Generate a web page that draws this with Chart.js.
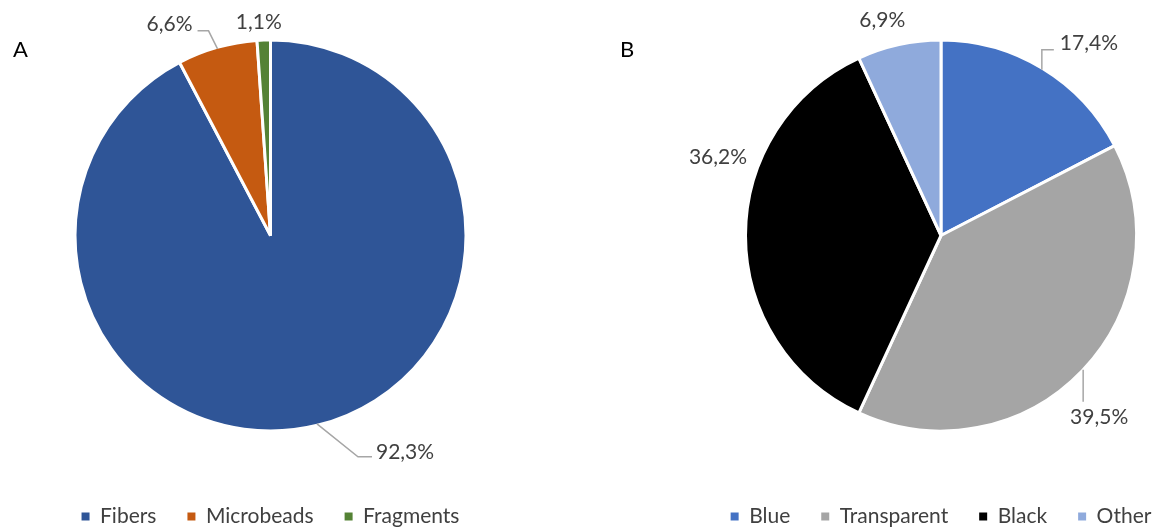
<!DOCTYPE html>
<html>
<head>
<meta charset="utf-8">
<script src="https://cdn.jsdelivr.net/npm/chart.js@4.4.1/dist/chart.umd.min.js"></script>
<style>
  html, body { margin: 0; padding: 0; background: #fff; overflow: hidden; }
  body { width: 1158px; height: 529px; position: relative; }
  .box { position: absolute; top: -4px; height: 559px; }
  #boxA { left: 0; width: 541px; }
  #boxB { left: 600px; width: 682px; }
</style>
</head>
<body>
<div class="box" id="boxA"><canvas id="chartA"></canvas></div>
<div class="box" id="boxB"><canvas id="chartB"></canvas></div>
<script>
// particle shape (panel A)
var shapeLabels = ['Fibers', 'Microbeads', 'Fragments'];
var shapeValues = [92.3, 6.6, 1.1];
var shapeColors = ['#2F5597', '#C55A11', '#548235'];

// particle colour (panel B)
var colourLabels = ['Blue', 'Transparent', 'Black', 'Other'];
var colourValues = [17.4, 39.5, 36.2, 6.9];
var colourColors = ['#4472C4', '#A5A5A5', '#000000', '#8FAADC'];

var FONT = 'Lato, "Open Sans", sans-serif';

// where each percentage sits, relative to the middle of its slice's rim
var shapePlaces = [
    { dx: 59, dy: 28, align: 'left', leader: [[0, 0], [41, 33], [55, 33]] },
    { dx: -25, dy: -25, align: 'right', leader: [[0, 0], [-9, -18], [-20, -18]] },
    { dx: -5, dy: -19, align: 'center', leader: null }
];
var colourPlaces = [
    { dx: 18, dy: -27, align: 'left', leader: [[0, 0], [0, -20], [12, -20]] },
    { dx: 18, dy: 48, align: 'center', leader: [[2, 0], [2, 32]] },
    { dx: -29, dy: -78, align: 'center', leader: null },
    { dx: -17, dy: -26, align: 'center', leader: null }
];

// draws "92,3%" style labels with grey leader lines
var sliceLabels = {
    id: 'sliceLabels',
    afterDatasetsDraw: function (chart, args, opts) {
        var ctx = chart.ctx;
        var meta = chart.getDatasetMeta(0);
        var data = chart.data.datasets[0].data;
        ctx.save();
        ctx.font = '21px ' + FONT;
        ctx.textBaseline = 'middle';
        meta.data.forEach(function (arc, i) {
            var p = arc.getProps(['x', 'y', 'startAngle', 'endAngle', 'outerRadius'], true);
            var mid = (p.startAngle + p.endAngle) / 2;
            var ex = p.x + Math.cos(mid) * (p.outerRadius - 1.5);
            var ey = p.y + Math.sin(mid) * (p.outerRadius - 1.5);
            var place = opts.places[i];
            if (place.leader) {
                ctx.strokeStyle = '#A6A6A6';
                ctx.lineWidth = 1.5;
                ctx.beginPath();
                place.leader.forEach(function (pt, k) {
                    if (k === 0) ctx.moveTo(ex + pt[0], ey + pt[1]);
                    else ctx.lineTo(ex + pt[0], ey + pt[1]);
                });
                ctx.stroke();
            }
            ctx.fillStyle = '#404040';
            ctx.textAlign = place.align;
            var txt = data[i].toFixed(1).replace('.', ',') + '%';
            ctx.fillText(txt, ex + place.dx, ey + place.dy);
        });
        // panel letter
        ctx.fillStyle = '#000';
        ctx.font = '22px ' + FONT;
        ctx.textAlign = 'left';
        ctx.textBaseline = 'alphabetic';
        ctx.fillText(opts.letter, opts.letterX, 61);
        ctx.restore();
    }
};

function legendItems(chart) {
    var items = Chart.overrides.pie.plugins.legend.labels.generateLabels(chart);
    items.forEach(function (it) {
        it.lineWidth = 0;
        it.strokeStyle = it.fillStyle;
    });
    return items;
}

function makePie(id, labels, values, colors, places, letter, letterX) {
    return new Chart(document.getElementById(id), {
        type: 'pie',
        data: {
            labels: labels,
            datasets: [{
                data: values,
                backgroundColor: colors,
                borderColor: '#ffffff',
                borderWidth: 3,
                radius: 195.5
            }]
        },
        options: {
            responsive: true,
            maintainAspectRatio: false,
            animation: false,
            layout: { padding: { top: 0, bottom: 18 } },
            plugins: {
                tooltip: { enabled: false },
                legend: {
                    position: 'bottom',
                    labels: {
                        boxWidth: 8,
                        boxHeight: 8,
                        padding: 31,
                        color: '#404040',
                        font: { family: FONT, size: 21 },
                        generateLabels: legendItems
                    }
                },
                sliceLabels: { places: places, letter: letter, letterX: letterX }
            }
        },
        plugins: [sliceLabels]
    });
}

makePie('chartA', shapeLabels, shapeValues, shapeColors, shapePlaces, 'A', 13);
makePie('chartB', colourLabels, colourValues, colourColors, colourPlaces, 'B', 20);
</script>
</body>
</html>
